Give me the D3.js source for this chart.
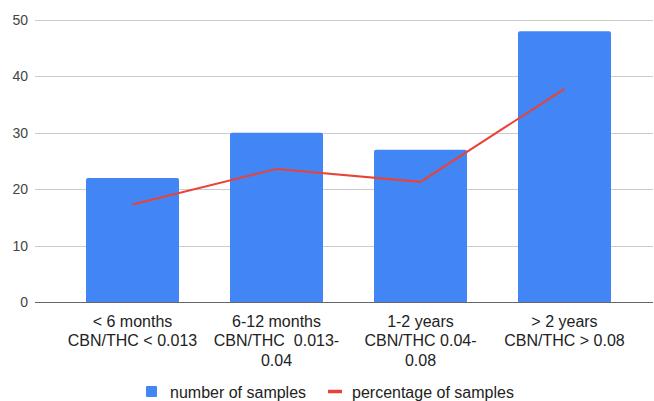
<!DOCTYPE html>
<html>
<head>
<meta charset="utf-8">
<script src="https://cdn.jsdelivr.net/npm/d3@7"></script>
<style>
  body { margin: 0; background: #fff; }
  svg { font-family: "Liberation Sans", Arial, sans-serif; }
</style>
</head>
<body>
<div id="chart"></div>
<script>
// data
const categories = [
    ["< 6 months", "CBN/THC < 0.013"],
    ["6-12 months", "CBN/THC  0.013-", "0.04"],
    ["1-2 years", "CBN/THC 0.04-", "0.08"],
    ["> 2 years", "CBN/THC > 0.08"]
];
const catKeys = ["c1", "c2", "c3", "c4"];
const samples = [22, 30, 27, 48];
const percentages = [17.3, 23.6, 21.3, 37.8];
const yTicks = [0, 10, 20, 30, 40, 50];
const seriesNames = ["number of samples", "percentage of samples"];

const W = 654, H = 401;

const svg = d3.select("#chart")
    .append("svg")
    .attr("width", W)
    .attr("height", H);

const x = d3.scaleBand()
    .domain(catKeys)
    .range([60.5, 636.5])
    .paddingInner(0.354)
    .paddingOuter(0.177);

const y = d3.scaleLinear()
    .domain([0, 50])
    .range([302, 20]);

// gridlines
svg.append("g")
    .selectAll("line")
    .data(yTicks.filter(d => d > 0))
    .join("line")
    .attr("x1", 35)
    .attr("x2", 653)
    .attr("y1", d => Math.round(y(d)) + 0.5)
    .attr("y2", d => Math.round(y(d)) + 0.5)
    .attr("stroke", "#cccccc")
    .attr("stroke-width", 1);

// y labels
svg.append("g")
    .selectAll("text")
    .data(yTicks)
    .join("text")
    .attr("x", 28)
    .attr("y", d => y(d))
    .attr("dy", "0.35em")
    .attr("text-anchor", "end")
    .attr("font-size", 14)
    .attr("fill", "#444")
    .text(d => d);

// bars
svg.append("g")
    .selectAll("path")
    .data(samples)
    .join("path")
    .attr("fill", "#4285f4")
    .attr("d", (d, i) => {
        const x0 = x(catKeys[i]), w = x.bandwidth();
        const y0 = y(d), y1 = y(0), r = 2;
        return `M${x0},${y1}V${y0 + r}Q${x0},${y0} ${x0 + r},${y0}H${x0 + w - r}Q${x0 + w},${y0} ${x0 + w},${y0 + r}V${y1}Z`;
    });

// baseline
svg.append("line")
    .attr("x1", 35)
    .attr("x2", 653)
    .attr("y1", 302.5)
    .attr("y2", 302.5)
    .attr("stroke", "#666")
    .attr("stroke-width", 1.2);

// line series
const line = d3.line()
    .x((d, i) => x(catKeys[i]) + x.bandwidth() / 2)
    .y(d => y(d));

svg.append("path")
    .datum(percentages)
    .attr("fill", "none")
    .attr("stroke", "#ea4335")
    .attr("stroke-width", 2)
    .attr("d", line);

// x labels
const xl = svg.append("g")
    .selectAll("text")
    .data(categories)
    .join("text")
    .attr("x", (d, i) => x(catKeys[i]) + x.bandwidth() / 2)
    .attr("y", 320)
    .attr("text-anchor", "middle")
    .attr("font-size", 16)
    .attr("fill", "#222");

xl.selectAll("tspan")
    .data(d => d)
    .join("tspan")
    .attr("x", function () { return this.parentNode.getAttribute("x"); })
    .attr("y", (d, j) => 321 + j * 19.5)
    .attr("dy", "0.35em")
    .style("white-space", "pre")
    .text(d => d);

// legend
const lg = svg.append("g");
lg.append("rect")
    .attr("x", 146)
    .attr("y", 386)
    .attr("width", 11)
    .attr("height", 11)
    .attr("rx", 1)
    .attr("fill", "#4285f4");
lg.append("text")
    .attr("x", 170)
    .attr("y", 392)
    .attr("dy", "0.35em")
    .attr("font-size", 16)
    .attr("fill", "#222")
    .text(seriesNames[0]);
lg.append("line")
    .attr("x1", 328)
    .attr("x2", 342)
    .attr("y1", 391.5)
    .attr("y2", 391.5)
    .attr("stroke", "#ea4335")
    .attr("stroke-width", 3.5);
lg.append("text")
    .attr("x", 352)
    .attr("y", 392)
    .attr("dy", "0.35em")
    .attr("font-size", 16)
    .attr("fill", "#222")
    .text(seriesNames[1]);
</script>
</body>
</html>
